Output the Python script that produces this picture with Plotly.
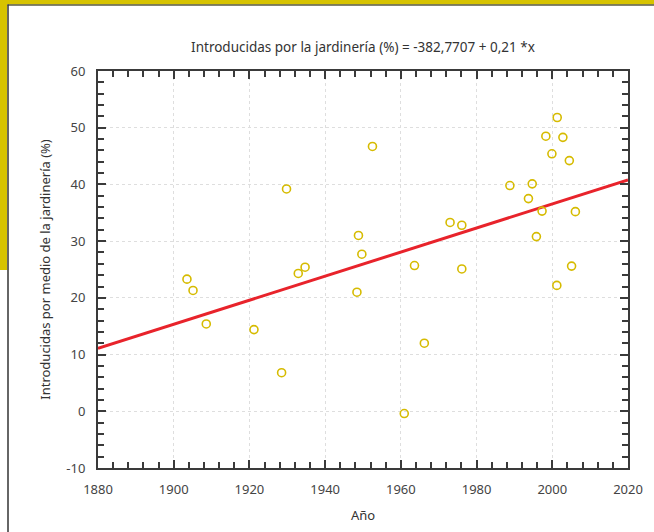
import plotly.graph_objects as go

years = [1903.5, 1905.1, 1908.6, 1921.2, 1928.5, 1929.8, 1932.9, 1934.7, 1948.4, 1948.8,
         1949.7, 1952.5, 1960.9, 1963.6, 1966.2, 1973.0, 1976.1, 1976.1, 1988.8, 1993.7,
         1994.7, 1995.8, 1997.3, 1998.3, 1999.9, 2001.3, 2001.2, 2002.8, 2004.5, 2005.1, 2006.1]
values = [23.3, 21.3, 15.4, 14.4, 6.8, 39.2, 24.3, 25.4, 21.0, 31.0,
          27.7, 46.7, -0.4, 25.7, 12.0, 33.3, 32.8, 25.1, 39.8, 37.5,
          40.1, 30.8, 35.3, 48.5, 45.4, 51.8, 22.2, 48.3, 44.2, 25.6, 35.2]
fit_years = [1880, 2020]
fit_values = [11.1, 40.8]

y_tickvals = [-10, 0, 10, 20, 30, 40, 50, 60]
y_ticktext = ["-10", "0", "10", "20", "30", "40", "50", "60"]

title_text = "Introducidas por la jardinería (%) = -382,7707 + 0,21 *x"
x_title = "Año"
y_title = "Introducidas por medio de la jardinería (%)"

W, H = 654, 532
L, R, T, B = 98, 628, 71, 468
FONT = "Noto Sans"

def px(x):
    return (x - L) / (R - L)

def py(y):
    return (B - y) / (B - T)

fig = go.Figure()
fig.add_trace(go.Scatter(x=fit_years, y=fit_values, mode="lines",
                         line=dict(color="#e8232b", width=3), showlegend=False, hoverinfo="skip"))
fig.add_trace(go.Scatter(x=years, y=values, mode="markers",
                         marker=dict(symbol="circle-open", size=8, color="#d6bb00",
                                     line=dict(width=1.6, color="#d6bb00")),
                         showlegend=False))

YEL = "#d7c300"
shapes = [
    dict(type="rect", xref="paper", yref="paper", x0=px(0), x1=px(W), y0=py(0), y1=py(4.5),
         fillcolor=YEL, line=dict(width=0), layer="below"),
    dict(type="rect", xref="paper", yref="paper", x0=px(0), x1=px(7), y0=py(0), y1=py(270),
         fillcolor=YEL, line=dict(width=0), layer="below"),
    dict(type="line", xref="paper", yref="paper", x0=px(7.5), x1=px(W), y0=py(5), y1=py(5),
         line=dict(color="#5a5a40", width=1.5)),
    dict(type="line", xref="paper", yref="paper", x0=px(8), x1=px(8), y0=py(4.5), y1=py(H),
         line=dict(color="#333333", width=1.5)),
]

axis_common = dict(
    showline=True, linecolor="#3a3a3a", linewidth=2, mirror="allticks",
    ticks="inside", ticklen=8, tickwidth=1.5, tickcolor="#3a3a3a",
    showgrid=True, gridcolor="#dedede", gridwidth=1, griddash="dot",
    zeroline=False,
    tickfont=dict(family=FONT, size=13, color="#444444"),
    ticklabelstandoff=8,
)

fig.update_layout(
    width=W, height=H,
    margin=dict(l=L, r=W - R, t=T, b=H - B),
    paper_bgcolor="white", plot_bgcolor="white",
    font=dict(family=FONT, color="#333333"),
    title=dict(text=title_text, x=(L + R) / 2 / W, xanchor="center", y=1 - 47 / H,
               yanchor="middle", font=dict(family=FONT, size=13.5, color="#333333")),
    xaxis=dict(range=[1880, 2020], dtick=20, tick0=1880,
               minor=dict(dtick=4, ticks="inside", ticklen=6, tickwidth=1.5, tickcolor="#3a3a3a", showgrid=False),
               title=dict(text=x_title, font=dict(family=FONT, size=13, color="#333333"), standoff=14),
               **axis_common),
    yaxis=dict(range=[-10, 60], tickmode="array", tickvals=y_tickvals, ticktext=y_ticktext,
               minor=dict(dtick=2, tick0=0, ticks="inside", ticklen=6, tickwidth=1.5, tickcolor="#3a3a3a", showgrid=False),
               title=dict(text=y_title, font=dict(family=FONT, size=13, color="#333333"), standoff=13),
               **axis_common),
    shapes=shapes,
)

fig.write_html("out.html", config={"displayModeBar": False},
               post_script="document.body.style.margin='0';document.body.style.overflow='hidden';")
